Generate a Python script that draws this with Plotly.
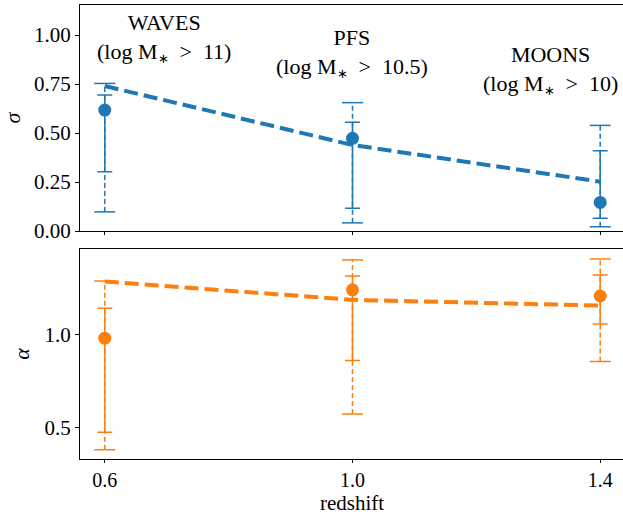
import plotly.graph_objects as go
from plotly.subplots import make_subplots

# ---- data ----
redshift = [0.6, 1.0, 1.4]
surveys = ["WAVES", "PFS", "MOONS"]
mass_cuts = ["11", "10.5", "10"]

sigma = [0.617, 0.473, 0.146]
sigma_in_lo = [0.303, 0.116, 0.065]
sigma_in_hi = [0.694, 0.555, 0.410]
sigma_out_lo = [0.098, 0.042, 0.022]
sigma_out_hi = [0.753, 0.655, 0.539]
sigma_model = [0.740, 0.439, 0.252]

alpha = [0.982, 1.243, 1.210]
alpha_in_lo = [0.473, 0.861, 1.058]
alpha_in_hi = [1.144, 1.318, 1.324]
alpha_out_lo = [0.379, 0.572, 0.856]
alpha_out_hi = [1.291, 1.405, 1.410]
alpha_model = [1.288, 1.189, 1.158]

label_x = [0.695, 1.0, 1.32]
label_y = [0.985, 0.91, 0.82]

BLUE = "#1f77b4"
ORANGE = "#ff7f0e"
FONT = "Liberation Serif"
FS = 21

fig = make_subplots(rows=2, cols=1, shared_xaxes=True)


def add_panel(row, val, in_lo, in_hi, out_lo, out_hi, model, color):
    # outer (dashed) error bars
    xs, ys = [], []
    for x, lo, hi in zip(redshift, out_lo, out_hi):
        xs += [x, x, None]
        ys += [lo, hi, None]
    fig.add_trace(go.Scatter(x=xs, y=ys, mode="lines",
                             line=dict(color=color, width=1.5, dash="5px,3px"),
                             showlegend=False, hoverinfo="skip"), row=row, col=1)
    fig.add_trace(go.Scatter(x=redshift + redshift, y=out_lo + out_hi, mode="markers",
                             marker=dict(symbol="line-ew-open", size=15, color=color,
                                         line=dict(color=color, width=1.5)),
                             showlegend=False, hoverinfo="skip"), row=row, col=1)
    # model line
    fig.add_trace(go.Scatter(x=redshift, y=model, mode="lines",
                             line=dict(color=color, width=4, dash="14px,6px"),
                             showlegend=False), row=row, col=1)
    # inner (solid) error bars with markers
    fig.add_trace(go.Scatter(
        x=redshift, y=val, mode="markers",
        marker=dict(color=color, size=13),
        error_y=dict(type="data", symmetric=False,
                     array=[h - v for h, v in zip(in_hi, val)],
                     arrayminus=[v - l for v, l in zip(val, in_lo)],
                     color=color, thickness=1.5, width=7.5),
        showlegend=False), row=row, col=1)


add_panel(1, sigma, sigma_in_lo, sigma_in_hi, sigma_out_lo, sigma_out_hi, sigma_model, BLUE)
add_panel(2, alpha, alpha_in_lo, alpha_in_hi, alpha_out_lo, alpha_out_hi, alpha_model, ORANGE)

for s, m, x, y in zip(surveys, mass_cuts, label_x, label_y):
    fig.add_annotation(x=x, y=y, xref="x", yref="y",
                       text=(f"{s}<br>(log M<sub><span style='font-size:13px'>∗</span></sub>"
                             f"&nbsp;&nbsp;&gt;&nbsp;&nbsp;{m})"),
                       showarrow=False, xanchor="center", yanchor="middle",
                       font=dict(family=FONT, size=FS + 1, color="black"))

# x-axis title as an annotation at the bottom of the figure
fig.add_annotation(x=1.0, y=-0.1255, xref="x2", yref="paper", text="redshift",
                   showarrow=False, xanchor="center", yanchor="bottom", borderpad=0,
                   font=dict(family=FONT, size=FS, color="black"))

axis_common = dict(showline=True, linecolor="black", linewidth=1,
                   ticks="outside", ticklen=4, tickwidth=1, tickcolor="black",
                   showgrid=False, zeroline=False,
                   tickfont=dict(family=FONT, size=FS, color="black"))

fig.update_xaxes(**axis_common, mirror=True, range=[0.56, 1.4368],
                 tickvals=redshift, ticktext=["0.6", "1.0", "1.4"])
fig.update_xaxes(tickfont=dict(family=FONT, size=20, color="black"), ticklen=3)
fig.update_xaxes(showticklabels=False, row=1, col=1)

fig.update_yaxes(**axis_common, mirror=False)
fig.update_yaxes(range=[0, 1.153], tickvals=[0, 0.25, 0.5, 0.75, 1.0],
                 ticktext=["0.00", "0.25", "0.50", "0.75", "1.00"],
                 title=dict(text="<i>σ</i>", font=dict(family=FONT, size=FS + 1, color="black"),
                            standoff=8),
                 domain=[0.502, 1.0], row=1, col=1)
fig.update_yaxes(range=[0.329, 1.464], tickvals=[0.5, 1.0], ticktext=["0.5", "1.0"],
                 title=dict(text="<i>α</i>", font=dict(family=FONT, size=FS + 1, color="black"),
                            standoff=8),
                 domain=[0.0, 0.4626], row=2, col=1)

fig.update_layout(width=623, height=516,
                  margin=dict(l=80, r=0, t=5, b=57),
                  plot_bgcolor="white", paper_bgcolor="white",
                  showlegend=False)

fig.write_html("out.html", config={"displayModeBar": False},
               post_script="document.body.style.margin='0';document.body.style.overflow='hidden';")
